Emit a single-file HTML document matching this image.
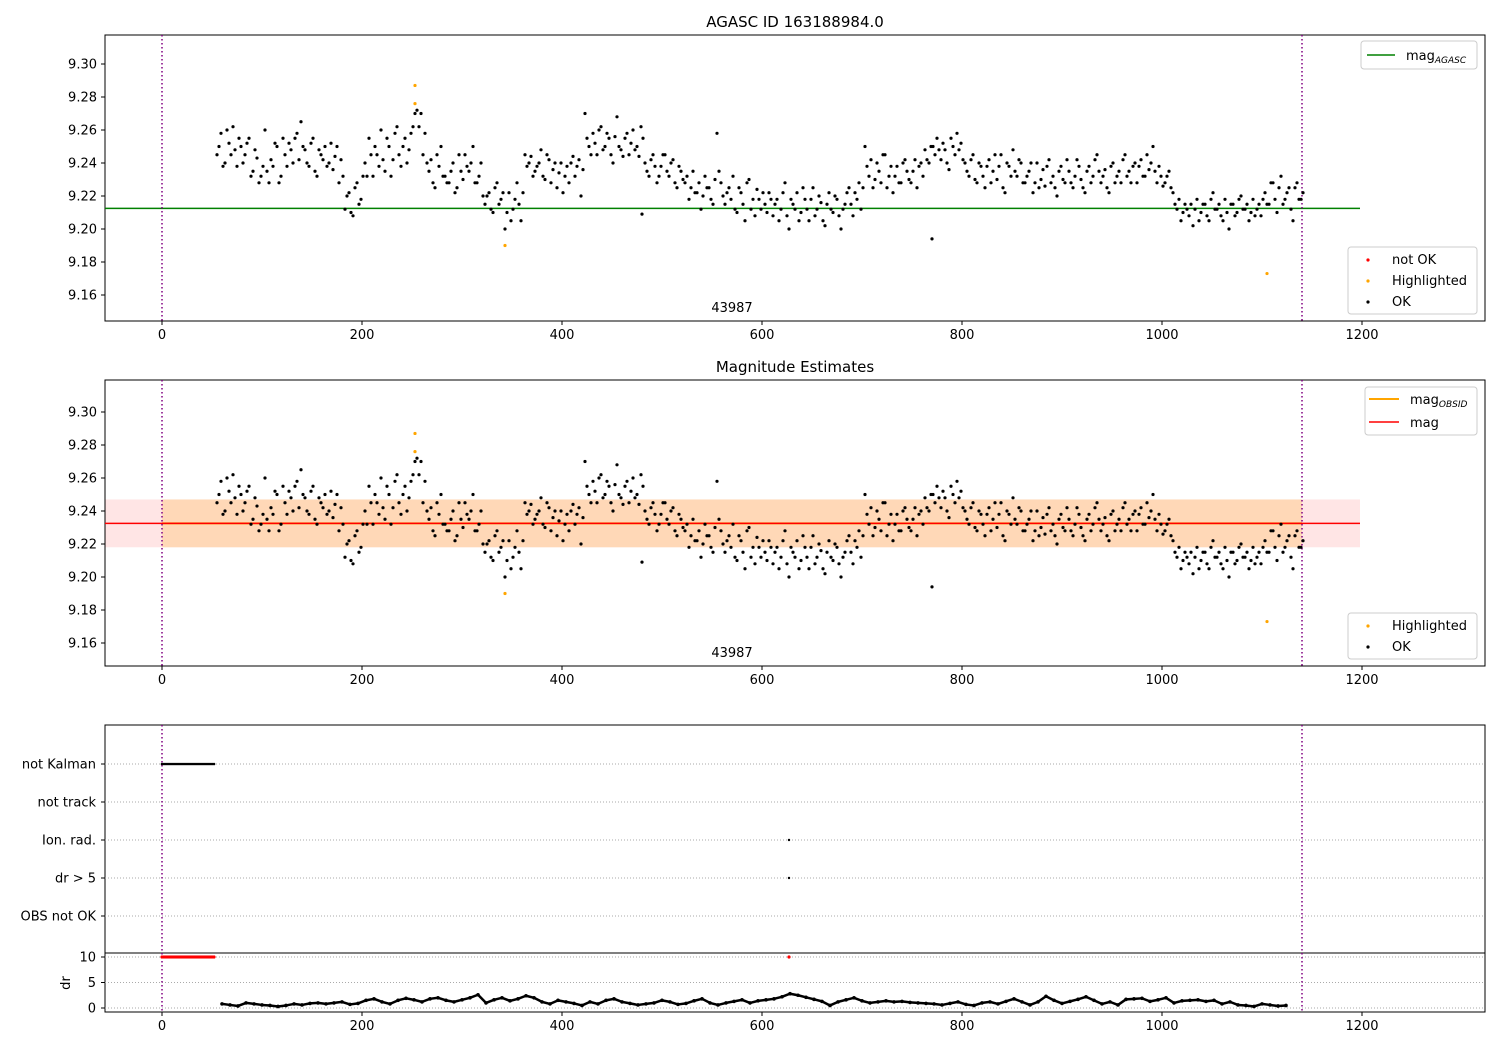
<!DOCTYPE html>
<html><head><meta charset="utf-8"><style>
body{margin:0;background:#fff}
svg{font-family:"DejaVu Sans","Liberation Sans",sans-serif}
</style></head><body>
<svg id="chart" width="1500" height="1050" viewBox="0 0 1500 1050" xmlns="http://www.w3.org/2000/svg">
<g id="g"></g>
</svg>
<script>
const tStart = 55, tStep = 4;
const magValues = [9.245,9.258,9.24,9.252,9.262,9.238,9.25,9.245,9.255,9.235,9.243,9.232,
9.26,9.228,9.238,9.25,9.232,9.245,9.252,9.24,9.258,9.265,
9.248,9.238,9.255,9.232,9.245,9.25,9.24,9.236,9.25,9.242,
9.212,9.222,9.208,9.228,9.218,
9.24,9.255,9.232,9.245,9.26,9.235,9.25,9.242,9.262,9.238,9.255,9.248,9.262,
9.272,9.27,9.258,
9.235,9.228,9.245,9.25,9.232,9.228,9.24,9.225,9.235,
9.245,9.235,9.25,9.228,9.24,
9.215,9.222,9.21,9.228,9.218,9.2,9.222,9.212,9.228,9.205,
9.245,9.24,9.232,9.238,9.248,9.23,9.242,9.236,9.225,9.24,9.232,9.228,9.244,9.238,9.22,
9.27,9.25,9.258,9.245,9.262,9.25,9.255,9.24,9.268,9.248,9.255,9.245,9.26,9.25,9.262,
9.24,9.232,9.245,9.228,9.238,9.245,9.232,9.242,9.225,9.235,
9.228,9.218,9.235,9.222,9.212,9.232,9.225,9.215,9.258,9.228,
9.215,9.225,9.232,9.21,9.222,9.205,9.23,9.218,9.224,9.212,
9.215,9.222,9.208,9.218,9.212,9.228,9.2,9.215,9.222,9.21,9.218,9.205,9.225,9.212,9.216,9.202,9.222,9.21,9.218,9.2,9.215,9.225,9.208,9.218,9.212,
9.25,9.232,9.225,9.24,9.228,9.245,9.232,9.222,9.238,9.228,9.242,9.23,9.235,9.225,9.24,
9.248,9.24,9.25,9.255,9.242,9.248,9.236,9.25,9.258,9.252,
9.24,9.232,9.245,9.228,9.238,9.225,9.242,9.235,9.23,9.245,9.222,9.238,9.248,9.232,9.24,
9.228,9.235,9.222,9.24,9.23,9.226,9.242,9.232,9.22,9.238,9.228,9.235,9.225,9.242,9.23,9.222,9.238,9.232,9.245,9.228,9.236,9.222,9.24,9.232,9.228,9.245,9.235,9.238,9.228,9.242,9.232,9.236,9.25,9.228,9.232,
9.228,9.235,9.222,9.212,9.205,9.215,9.208,9.202,9.218,9.21,9.215,9.205,9.222,9.212,9.208,9.218,9.2,9.215,9.21,9.22,9.212,9.205,9.218,9.212,9.208,
9.222,9.215,9.228,9.21,9.232,9.218,9.225,9.205,9.228,9.218];
const tStart2 = 57;
const magValues2 = [9.25,9.238,9.26,9.245,9.248,9.255,9.24,9.252,9.232,9.248,9.228,9.238,
9.235,9.242,9.252,9.228,9.255,9.238,9.248,9.255,9.242,9.25,
9.24,9.252,9.235,9.248,9.242,9.238,9.252,9.244,9.228,9.232,
9.22,9.21,9.225,9.215,9.232,
9.232,9.245,9.25,9.238,9.242,9.255,9.232,9.258,9.245,9.25,9.24,9.258,9.27,
9.262,9.245,9.24,
9.242,9.225,9.238,9.232,9.228,9.235,9.222,9.245,9.23,
9.238,9.24,9.228,9.232,9.22,
9.22,9.212,9.225,9.215,9.222,9.21,9.205,9.218,9.215,9.222,
9.238,9.244,9.235,9.24,9.232,9.245,9.228,9.24,9.234,9.222,9.238,9.24,9.232,9.242,9.236,
9.255,9.245,9.252,9.26,9.248,9.258,9.245,9.256,9.25,9.244,9.258,9.252,9.248,9.244,9.255,
9.235,9.242,9.238,9.232,9.245,9.235,9.24,9.228,9.238,9.23,
9.232,9.225,9.222,9.228,9.22,9.225,9.218,9.23,9.235,9.22,
9.222,9.218,9.212,9.225,9.215,9.228,9.212,9.208,9.218,9.222,
9.21,9.218,9.215,9.205,9.222,9.208,9.218,9.212,9.205,9.225,9.212,9.218,9.208,9.22,9.205,9.215,9.212,9.22,9.208,9.212,9.222,9.215,9.222,9.228,9.225,
9.238,9.242,9.23,9.235,9.245,9.225,9.238,9.232,9.228,9.24,9.235,9.228,9.242,9.238,9.232,
9.242,9.25,9.245,9.248,9.252,9.24,9.255,9.245,9.248,9.242,
9.235,9.242,9.23,9.24,9.232,9.238,9.228,9.245,9.238,9.225,9.24,9.232,9.235,9.242,9.228,
9.232,9.24,9.228,9.225,9.236,9.238,9.228,9.225,9.235,9.23,9.242,9.228,9.232,9.238,9.225,9.235,9.228,9.242,9.235,9.232,9.225,9.238,9.228,9.235,9.242,9.232,9.228,9.24,9.238,9.232,9.245,9.24,9.235,9.238,9.226,
9.232,9.225,9.215,9.218,9.21,9.212,9.215,9.212,9.205,9.215,9.208,9.218,9.212,9.215,9.205,9.21,9.215,9.208,9.218,9.212,9.215,9.21,9.208,9.215,9.218,
9.215,9.228,9.218,9.225,9.215,9.222,9.212,9.225,9.218,9.222];
const outlierTimes = [480, 770];
const outlierValues = [9.209, 9.194];
const highlightTimes = [253, 253, 343, 1105];
const highlightValues = [9.287, 9.276, 9.19, 9.173];
const magAgasc = 9.2125;
const magObs = 9.2325;
const magBandLow = 9.218, magBandHigh = 9.247;
const drStart = 60, drStep = 8;
const drValues = [0.8,0.6,0.4,1.0,0.8,0.6,0.5,0.3,0.5,0.8,0.6,0.9,1.0,0.8,1.0,1.2,0.7,0.9,1.5,1.8,1.2,0.8,1.5,1.9,1.6,1.2,1.8,2.0,1.5,1.2,1.6,2.0,2.6,1.0,1.6,2.0,1.4,1.8,2.4,2.0,1.2,0.8,1.5,1.2,0.9,0.5,1.2,0.8,1.5,1.8,1.2,0.9,0.6,0.8,1.0,1.5,1.2,0.7,0.9,1.4,1.8,1.0,0.6,1.0,1.3,1.6,1.0,1.4,1.6,1.8,2.2,2.8,2.5,2.1,1.7,1.3,0.5,1.2,1.6,2.0,1.4,1.0,1.2,1.4,1.2,1.3,1.1,1.0,0.9,0.8,0.6,0.9,1.2,0.7,0.5,1.0,1.2,0.8,1.3,1.8,1.2,0.6,1.2,2.3,1.5,0.9,1.3,1.7,2.2,1.5,0.8,1.2,0.6,1.7,1.8,1.9,1.3,1.6,2.0,1.0,1.4,1.5,1.6,1.3,1.5,0.8,1.2,0.6,0.5,0.3,0.8,0.6,0.4,0.5];
const flagLabels = ["not Kalman","not track","Ion. rad.","dr > 5","OBS not OK"];
const xTicks = [0,200,400,600,800,1000,1200];
const yTicks = [9.16,9.18,9.20,9.22,9.24,9.26,9.28,9.30];
const drTicks = [0,5,10];
const notKalmanStart = 0, notKalmanEnd = 53;
const spikeTime = 627;

const NS="http://www.w3.org/2000/svg";
const G=document.getElementById('g');
function el(tag,attrs,parent){const e=document.createElementNS(NS,tag);for(const k in attrs)e.setAttribute(k,attrs[k]);(parent||G).appendChild(e);return e;}
const X=t=>162+t;
const L=105,R=1485;
function yTop(v){return 64+(9.30-v)*1650;}
function yMid(v){return 412+(9.30-v)*1650;}
function yDr(v){return 1008-v*5.1;}

function axes(top,bot,name){
  const r=el('rect',{x:L,y:top,width:R-L,height:bot-top,fill:'none',stroke:'#000','stroke-width':1});
  
  
}
function xAxis(bot,name){
  const g=el('g',{});
  
  
  xTicks.forEach(t=>{
    el('line',{x1:X(t),x2:X(t),y1:bot,y2:bot+4,stroke:'#000'},g);
    const tx=el('text',{x:X(t),y:bot+18,'font-size':13,'text-anchor':'middle'},g);tx.textContent=t;
  });
}
function yAxis(fn,name){
  const g=el('g',{});
  
  
  yTicks.forEach(v=>{
    el('line',{x1:L-4,x2:L,y1:fn(v),y2:fn(v),stroke:'#000'},g);
    const tx=el('text',{x:L-8,y:fn(v)+4.5,'font-size':13,'text-anchor':'end'},g);tx.textContent=v.toFixed(2);
  });
}
function vlines(top,bot){
  [0,1140].forEach(t=>{
    const l=el('line',{x1:X(t),x2:X(t),y1:top,y2:bot,stroke:'#800080','stroke-width':1.5,'stroke-dasharray':'1.5,2.5'});
    
    
  });
}
function dots(fn,name){
  const g=el('g',{});
  
  
  magValues.forEach((v,i)=>{el('circle',{cx:X(tStart+i*tStep),cy:fn(v),r:1.6,fill:'#000'},g);});
  magValues2.forEach((v,i)=>{el('circle',{cx:X(tStart2+i*tStep),cy:fn(v),r:1.6,fill:'#000'},g);});
  outlierValues.forEach((v,i)=>{el('circle',{cx:X(outlierTimes[i]),cy:fn(v),r:1.6,fill:'#000'},g);});
  highlightValues.forEach((v,i)=>{el('circle',{cx:X(highlightTimes[i]),cy:fn(v),r:1.6,fill:'orange'},g);});
}
function text(x,y,s,size,anchor,name){
  const t=el('text',{x:x,y:y,'font-size':size,'text-anchor':anchor||'start'});
  t.textContent=s;
  
  
  return t;
}
function legendBox(x,y,w,h,name){
  const r=el('rect',{x:x,y:y,width:w,height:h,rx:3,fill:'#fff','fill-opacity':0.8,stroke:'#ccc'});
  
  
}

// TOP PANEL
text(795,27,'AGASC ID 163188984.0',15,'middle','top-title');
axes(35,321,'top-panel');
const ga=el('line',{x1:L,x2:X(1198),y1:yTop(magAgasc),y2:yTop(magAgasc),stroke:'green','stroke-width':1.5});


vlines(35,321);
dots(yTop,'top-scatter-points');
text(732,312,'43987',13,'middle','top-obsid-label');
xAxis(321,'top');yAxis(yTop,'top');
legendBox(1361,41,116,28,'top-legend-mag');
el('line',{x1:1367,x2:1395,y1:55,y2:55,stroke:'green','stroke-width':1.5});
const t1=text(1406,60,'mag',13,'start','legend-mag-agasc');
const s1=el('tspan',{'font-size':9,'font-style':'italic',dy:3},t1);s1.textContent='AGASC';
legendBox(1348,247,129,67,'top-legend-status');
[['not OK','red'],['Highlighted','orange'],['OK','#000']].forEach((e,i)=>{
  el('circle',{cx:1368,cy:260+i*21,r:1.6,fill:e[1]});
  text(1392,264+i*21,e[0],13,'start','legend-'+e[0].toLowerCase().replace(' ','-'));
});

// MIDDLE PANEL
text(795,372,'Magnitude Estimates',15,'middle','middle-title');
const band=el('rect',{x:L,y:yMid(magBandHigh),width:X(1198)-L,height:yMid(magBandLow)-yMid(magBandHigh),fill:'#ff0000','fill-opacity':0.1});


const band2=el('rect',{x:X(0),y:yMid(magBandHigh),width:X(1140)-X(0),height:yMid(magBandLow)-yMid(magBandHigh),fill:'#ffa500','fill-opacity':0.2});


axes(380,666,'middle-panel');
const lo=el('line',{x1:X(0),x2:X(1140),y1:yMid(magObs),y2:yMid(magObs),stroke:'orange','stroke-width':2});


const lm=el('line',{x1:L,x2:X(1198),y1:yMid(magObs),y2:yMid(magObs),stroke:'red','stroke-width':1.5});


vlines(380,666);
dots(yMid,'middle-scatter-points');
text(732,657,'43987',13,'middle','middle-obsid-label');
xAxis(666,'middle');yAxis(yMid,'middle');
legendBox(1365,387,112,48,'middle-legend-mag');
el('line',{x1:1369,x2:1399,y1:399,y2:399,stroke:'orange','stroke-width':2});
const t2=text(1410,404,'mag',13,'start','legend-mag-obsid');
const s2=el('tspan',{'font-size':9,'font-style':'italic',dy:3},t2);s2.textContent='OBSID';
el('line',{x1:1369,x2:1399,y1:422,y2:422,stroke:'red','stroke-width':1.5});
text(1410,427,'mag',13,'start','legend-mag');
legendBox(1348,613,129,46,'middle-legend-status');
[['Highlighted','orange'],['OK','#000']].forEach((e,i)=>{
  el('circle',{cx:1368,cy:626+i*21,r:1.6,fill:e[1]});
  text(1392,630+i*21,e[0],13,'start','middle-legend-'+e[0].toLowerCase());
});

// BOTTOM PANEL
axes(725,1012,'bottom-panel');
el('line',{x1:L,x2:R,y1:953,y2:953,stroke:'#000'});
flagLabels.forEach((s,i)=>{
  const y=764+i*38;
  const gl=el('line',{x1:L,x2:R,y1:y,y2:y,stroke:'#aaa','stroke-dasharray':'1,2'});
  
  
  el('line',{x1:L-4,x2:L,y1:y,y2:y,stroke:'#000'});
  text(L-9,y+4.5,s,13,'end','flag-label-'+i);
});
drTicks.forEach(v=>{
  el('line',{x1:L,x2:R,y1:yDr(v),y2:yDr(v),stroke:'#aaa','stroke-dasharray':'1,2'});
  el('line',{x1:L-4,x2:L,y1:yDr(v),y2:yDr(v),stroke:'#000'});
  text(L-9,yDr(v)+4.5,v,13,'end','dr-tick-'+v);
});
const dl=text(70,983,'dr',13,'middle','dr-axis-title');dl.setAttribute('transform','rotate(-90 70 983)');
vlines(725,1012);
const fk=el('g',{});


for(let t=notKalmanStart;t<=notKalmanEnd;t+=2){
  el('circle',{cx:X(t),cy:764,r:1.3,fill:'#000'},fk);
  el('circle',{cx:X(t),cy:yDr(10),r:1.6,fill:'red'},fk);
}
el('circle',{cx:X(spikeTime),cy:840,r:1.2,fill:'#000'},fk);
el('circle',{cx:X(spikeTime),cy:878,r:1.2,fill:'#000'},fk);
el('circle',{cx:X(spikeTime),cy:yDr(10),r:1.6,fill:'red'},fk);
const dg=el('g',{});


drValues.forEach((v,i)=>{
  const t=drStart+i*drStep; if(t>1140) return;
  el('circle',{cx:X(t),cy:yDr(v),r:1.8,fill:'#000'},dg);
  if(i+1<drValues.length && t+drStep<=1140){
    el('line',{x1:X(t),y1:yDr(v),x2:X(t+drStep),y2:yDr(drValues[i+1]),stroke:'#000','stroke-width':2.5},dg);
  }
});
xAxis(1012,'bottom');
</script>
</body></html>
